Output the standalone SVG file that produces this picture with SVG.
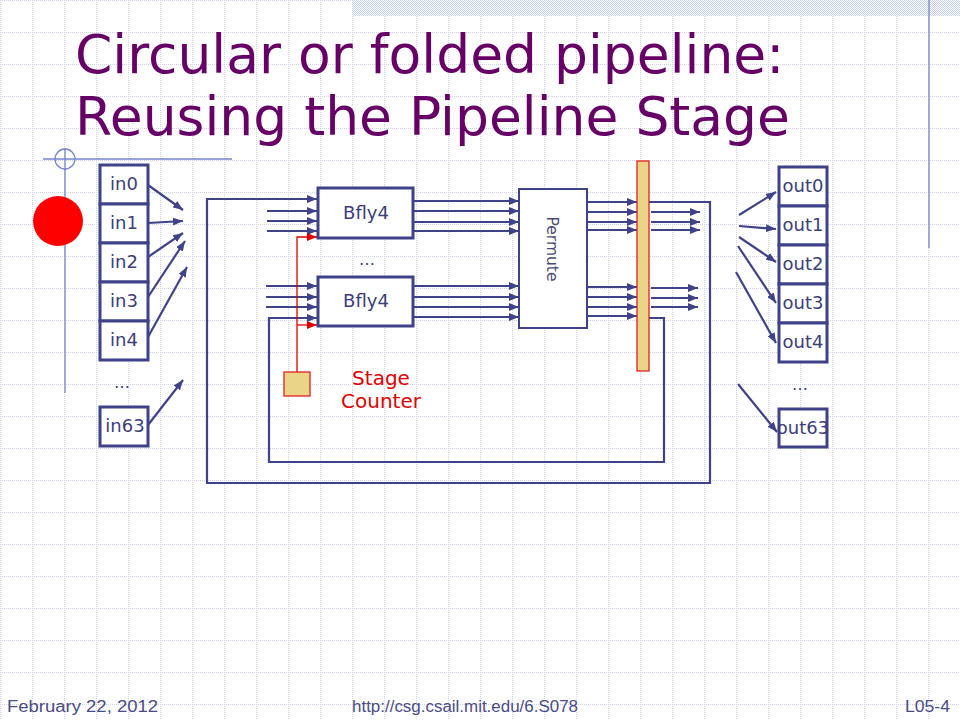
<svg xmlns="http://www.w3.org/2000/svg" width="960" height="720" viewBox="0 0 960 720">
  <defs>
    <pattern id="grid" x="0" y="0" width="32" height="32" patternUnits="userSpaceOnUse">
      <line x1="0.5" y1="0" x2="0.5" y2="32" stroke="#cdd1ea" stroke-width="1" stroke-dasharray="1 1"/>
      <line x1="0" y1="0.5" x2="32" y2="0.5" stroke="#cdd1ea" stroke-width="1" stroke-dasharray="1 1"/>
    </pattern>
    <pattern id="checker" x="0" y="0" width="2" height="2" patternUnits="userSpaceOnUse">
      <rect width="2" height="2" fill="#ffffff"/>
      <rect width="1" height="1" fill="#c2cdef"/>
      <rect x="1" y="1" width="1" height="1" fill="#c2cdef"/>
    </pattern>
    <marker id="arr" viewBox="0 0 10 8" markerWidth="10" markerHeight="8" refX="10" refY="4" orient="auto" markerUnits="userSpaceOnUse">
      <path d="M0,0 L10,4 L0,8 z" fill="#3f4288"/>
    </marker>
    <marker id="arrR" viewBox="0 0 10 8" markerWidth="10" markerHeight="8" refX="10" refY="4" orient="auto" markerUnits="userSpaceOnUse">
      <path d="M0,0 L10,4 L0,8 z" fill="#e00000"/>
    </marker>
  </defs>
  <style>
    .box { fill: #ffffff; stroke: #3f4288; stroke-width: 3; }
    .thin { fill: #ffffff; stroke: #3f4288; stroke-width: 2; }
    .lbl { font-family: "DejaVu Sans", Verdana, sans-serif; font-size: 18px; fill: #3d3d7a; text-anchor: middle; }
    .wire { fill: none; stroke: #3f4288; stroke-width: 2.2; }
    .arrow { fill: none; stroke: #3f4288; stroke-width: 2.2; marker-end: url(#arr); }
    .red { fill: none; stroke: #e00000; stroke-width: 1.3; }
    .redarrow { fill: none; stroke: #e00000; stroke-width: 1.3; marker-end: url(#arrR); }
    .reg { fill: #e9d488; stroke: #e02020; stroke-width: 1.3; }
    .title { font-family: "DejaVu Sans", Verdana, sans-serif; font-size: 53.5px; fill: #660066; }
    .foot { font-family: "Liberation Sans", Arial, sans-serif; font-size: 16px; fill: #4b4b85; }
    .deco { stroke: #7585d2; stroke-width: 1.3; fill: none; }
  </style>

  <!-- background -->
  <rect width="960" height="720" fill="#ffffff"/>
  <rect width="960" height="720" fill="url(#grid)"/>
  <rect x="352" y="0" width="608" height="16" fill="url(#checker)"/>
  <line class="deco" x1="929" y1="0" x2="929" y2="248"/>
  <line class="deco" x1="43" y1="159" x2="232" y2="159"/>
  <line class="deco" x1="65" y1="148" x2="65" y2="393"/>
  <circle class="deco" cx="65" cy="159" r="10"/>
  <circle cx="58" cy="221" r="25" fill="#ff0000"/>

  <!-- title -->
  <text class="title" x="75" y="73">Circular or folded pipeline:</text>
  <text class="title" x="75" y="135">Reusing the Pipeline Stage</text>

  <!-- connectors -->
  <g id="connectors">
    <!-- input fan-in -->
    <line class="arrow" x1="148" y1="185" x2="183" y2="210"/>
    <line class="arrow" x1="148" y1="223" x2="183" y2="221"/>
    <line class="arrow" x1="148" y1="257" x2="183" y2="233"/>
    <line class="arrow" x1="148" y1="297" x2="185" y2="241"/>
    <line class="arrow" x1="148" y1="337" x2="187" y2="267"/>
    <line class="arrow" x1="148" y1="425" x2="183" y2="380"/>
    <!-- loops -->
    <path class="arrow" d="M649,202 L710,202 L710,483 L207,483 L207,199 L317,199"/>
    <path class="arrow" d="M649,318 L664,318 L664,462 L269,462 L269,318 L317,318"/>
    <!-- upper bfly inputs -->
    <line class="arrow" x1="267" y1="211" x2="317" y2="211"/>
    <line class="arrow" x1="267" y1="221" x2="317" y2="221"/>
    <line class="arrow" x1="267" y1="231" x2="317" y2="231"/>
    <!-- lower bfly inputs -->
    <line class="arrow" x1="266" y1="286" x2="317" y2="286"/>
    <line class="arrow" x1="266" y1="297" x2="317" y2="297"/>
    <line class="arrow" x1="266" y1="307" x2="317" y2="307"/>
    <!-- stage counter -->
    <path class="redarrow" d="M297,372 L297,237 L317,237"/>
    <line class="redarrow" x1="297" y1="325" x2="317" y2="325"/>
    <!-- bfly outputs -> permute -->
    <line class="arrow" x1="413" y1="201" x2="519" y2="201"/>
    <line class="arrow" x1="413" y1="211" x2="519" y2="211"/>
    <line class="arrow" x1="413" y1="222" x2="519" y2="222"/>
    <line class="arrow" x1="413" y1="231" x2="519" y2="231"/>
    <line class="arrow" x1="413" y1="286" x2="519" y2="286"/>
    <line class="arrow" x1="413" y1="297" x2="519" y2="297"/>
    <line class="arrow" x1="413" y1="307" x2="519" y2="307"/>
    <line class="arrow" x1="413" y1="317" x2="519" y2="317"/>
    <!-- permute -> register -->
    <line class="arrow" x1="587" y1="202" x2="637" y2="202"/>
    <line class="arrow" x1="587" y1="212" x2="637" y2="212"/>
    <line class="arrow" x1="587" y1="222" x2="637" y2="222"/>
    <line class="arrow" x1="587" y1="230" x2="637" y2="230"/>
    <line class="arrow" x1="587" y1="287" x2="637" y2="287"/>
    <line class="arrow" x1="587" y1="297" x2="637" y2="297"/>
    <line class="arrow" x1="587" y1="307" x2="637" y2="307"/>
    <line class="arrow" x1="587" y1="316" x2="637" y2="316"/>
    <!-- register outputs -->
    <line class="arrow" x1="651" y1="212" x2="700" y2="212"/>
    <line class="arrow" x1="651" y1="222" x2="700" y2="222"/>
    <line class="arrow" x1="651" y1="230" x2="700" y2="230"/>
    <line class="arrow" x1="651" y1="288" x2="698" y2="288"/>
    <line class="arrow" x1="651" y1="298" x2="698" y2="298"/>
    <line class="arrow" x1="651" y1="307" x2="698" y2="307"/>
    <!-- output fan-out -->
    <line class="arrow" x1="739" y1="215" x2="776" y2="192"/>
    <line class="arrow" x1="739" y1="226" x2="776" y2="229"/>
    <line class="arrow" x1="739" y1="237" x2="776" y2="262"/>
    <line class="arrow" x1="738" y1="246" x2="776" y2="303"/>
    <line class="arrow" x1="736" y1="272" x2="776" y2="343"/>
    <line class="arrow" x1="738" y1="384" x2="777" y2="432"/>
  </g>

  <!-- inputs -->
  <g id="in0"><rect class="box" x="100" y="165" width="48" height="39"/><text class="lbl" x="124" y="190">in0</text></g>
  <g id="in1"><rect class="box" x="100" y="204" width="48" height="39"/><text class="lbl" x="124" y="229">in1</text></g>
  <g id="in2"><rect class="box" x="100" y="243" width="48" height="39"/><text class="lbl" x="124" y="268">in2</text></g>
  <g id="in3"><rect class="box" x="100" y="282" width="48" height="39"/><text class="lbl" x="124" y="307">in3</text></g>
  <g id="in4"><rect class="box" x="100" y="321" width="48" height="39"/><text class="lbl" x="124" y="346">in4</text></g>
  <g id="in-ellipsis"><text class="lbl" x="122" y="388" style="font-size:16px">…</text></g>
  <g id="in63"><rect class="box" x="100" y="407" width="48" height="39"/><text class="lbl" x="125" y="432">in63</text></g>

  <!-- butterflies -->
  <g id="bfly4-top"><rect class="box" x="318" y="188" width="95" height="50"/><text class="lbl" x="366" y="219">Bfly4</text></g>
  <g id="bfly-ellipsis"><text class="lbl" x="367" y="265" style="font-size:16px">…</text></g>
  <g id="bfly4-bottom"><rect class="box" x="318" y="277" width="95" height="49"/><text class="lbl" x="366" y="307">Bfly4</text></g>

  <!-- permute -->
  <g id="permute">
    <rect class="thin" x="519" y="189" width="68" height="139"/>
    <text x="552" y="249" transform="rotate(90 552 249)" text-anchor="middle" dominant-baseline="central" style="font-family:'DejaVu Sans',Verdana,sans-serif;font-size:15.5px;fill:#4a4a72">Permute</text>
  </g>

  <!-- register -->
  <g id="register"><rect class="reg" x="637" y="161" width="12" height="210"/></g>

  <!-- stage counter -->
  <g id="stage-counter">
    <rect class="reg" x="284" y="372" width="26" height="24"/>
    <text x="381" y="385" text-anchor="middle" style="font-family:'DejaVu Sans',Verdana,sans-serif;font-size:20px;fill:#e00000">Stage</text>
    <text x="381" y="408" text-anchor="middle" style="font-family:'DejaVu Sans',Verdana,sans-serif;font-size:20px;fill:#e00000">Counter</text>
  </g>

  <!-- outputs -->
  <g id="out0"><rect class="box" x="779" y="167" width="48" height="39"/><text class="lbl" x="803" y="192">out0</text></g>
  <g id="out1"><rect class="box" x="779" y="206" width="48" height="39"/><text class="lbl" x="803" y="231">out1</text></g>
  <g id="out2"><rect class="box" x="779" y="245" width="48" height="39"/><text class="lbl" x="803" y="270">out2</text></g>
  <g id="out3"><rect class="box" x="779" y="284" width="48" height="39"/><text class="lbl" x="803" y="309">out3</text></g>
  <g id="out4"><rect class="box" x="779" y="323" width="48" height="39"/><text class="lbl" x="803" y="348">out4</text></g>
  <g id="out-ellipsis"><text class="lbl" x="800" y="390" style="font-size:16px">…</text></g>
  <g id="out63"><rect class="box" x="779" y="409" width="48" height="38"/><text class="lbl" x="803" y="434">out63</text></g>

  <!-- footer -->
  <text class="foot" x="7" y="712" textLength="151" lengthAdjust="spacingAndGlyphs">February 22, 2012</text>
  <text class="foot" x="352" y="712" textLength="226" lengthAdjust="spacingAndGlyphs">http://csg.csail.mit.edu/6.S078</text>
  <text class="foot" x="905" y="712" textLength="45" lengthAdjust="spacingAndGlyphs">L05-4</text>
</svg>
